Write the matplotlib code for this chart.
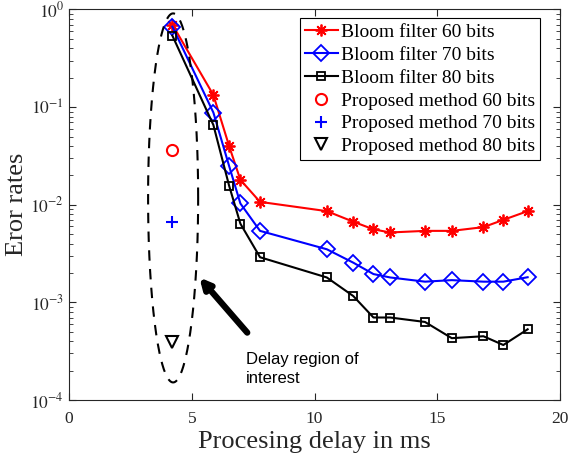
import numpy as np
import matplotlib
matplotlib.use('Agg')
import matplotlib.pyplot as plt

plt.rcParams['font.family'] = ['Liberation Serif', 'DejaVu Serif']
plt.rcParams['mathtext.fontset'] = 'stix'

# processing delay (ms) for bloom filter curves
delay = [4.21, 5.88, 6.52, 6.98, 7.78, 10.50, 11.58, 12.40, 13.08, 14.50, 15.59, 16.88, 17.69, 18.68]
err_60 = [0.70, 0.133, 0.040, 0.018, 0.0107, 0.0086, 0.0067, 0.0056, 0.0052, 0.0054, 0.0054, 0.0059, 0.0070, 0.0086]
err_70 = [0.667, 0.088, 0.025, 0.0103, 0.0054, 0.0035, 0.00255, 0.00195, 0.0018, 0.00163, 0.00169, 0.00163, 0.00163, 0.00181]
err_80 = [0.54, 0.0656, 0.0157, 0.0064, 0.0029, 0.0018, 0.00116, 0.00070, 0.00070, 0.00063, 0.00043, 0.00045, 0.000366, 0.00053]

# proposed method points
prop_delay = 4.21
prop_60 = 0.036
prop_70 = 0.0066
prop_80 = 0.00039

fig = plt.figure(figsize=(5.68, 4.58), dpi=100)
ax = fig.add_axes([0.1215, 0.1266, 0.8645, 0.8527])

ast = (8, 2, 0)
ax.semilogy(delay, err_60, '-', color='red', marker=ast, ms=8.5, mew=1.3, lw=1.5,
            label='Bloom filter 60 bits')
ax.semilogy(delay, err_70, '-', color='blue', marker='D', ms=8, mfc='none', mew=1.3, lw=1.5,
            label='Bloom filter 70 bits')
ax.semilogy(delay, err_80, '-', color='black', marker='s', ms=6, mfc='none', mew=1.3, lw=1.5,
            label='Bloom filter 80 bits')
ax.semilogy(prop_delay, prop_60, 'o', color='red', ms=8, mfc='none', mew=1.5,
            label='Proposed method 60 bits')
ax.semilogy(prop_delay, prop_70, '+', color='blue', ms=9, mew=1.5,
            label='Proposed method 70 bits')
ax.semilogy(prop_delay, prop_80, 'v', color='black', ms=9, mfc='none', mew=1.5,
            label='Proposed method 80 bits')

# dashed ellipse marking the region of interest
t = np.linspace(0, 2 * np.pi, 300)
ex = 4.24 + 1.02 * np.cos(t)
ey = 10 ** (-1.93 + 1.89 * np.sin(t))
ax.plot(ex, ey, '--', color='black', lw=1.5, dashes=(5, 4))

ax.annotate('', xy=(5.31, 0.0018), xytext=(7.26, 0.00049),
            arrowprops=dict(arrowstyle='-|>,head_length=0.6,head_width=0.3',
                            color='black', lw=4.5, shrinkA=0, shrinkB=0))
ax.text(7.21, 0.00031, 'Delay region of\ninterest', family='Liberation Sans',
        fontsize=12, va='top', ha='left', linespacing=1.3)

ax.set_xlim(0, 20)
ax.set_ylim(1e-4, 1)
ax.set_xticks([0, 5, 10, 15, 20])
ax.set_yticks([1e-4, 1e-3, 1e-2, 1e-1, 1])
ax.set_yticklabels([r'$10^{-4}$', r'$10^{-3}$', r'$10^{-2}$', r'$10^{-1}$', r'$10^{0}$'])
ax.tick_params(which='both', direction='in', top=True, right=True, labelsize=12.5, colors='#262626')
ax.tick_params(axis='x', pad=8)
ax.tick_params(which='major', length=5)
ax.tick_params(which='minor', length=3)
for s in ax.spines.values():
    s.set_color('#262626')
    s.set_linewidth(0.8)

ax.set_xlabel('Procesing delay in ms', fontsize=19, color='#262626', labelpad=3)
ax.set_ylabel('Eror rates', fontsize=19, color='#262626', labelpad=2)

leg = ax.legend(loc='upper right', bbox_to_anchor=(0.959, 0.977), fontsize=14, frameon=True,
                fancybox=False, edgecolor='black', framealpha=1, handlelength=1.7,
                handletextpad=0.15, borderpad=0.25, labelspacing=0.27, borderaxespad=0)
leg.get_frame().set_linewidth(0.8)

fig.savefig('out.png', dpi=100)
